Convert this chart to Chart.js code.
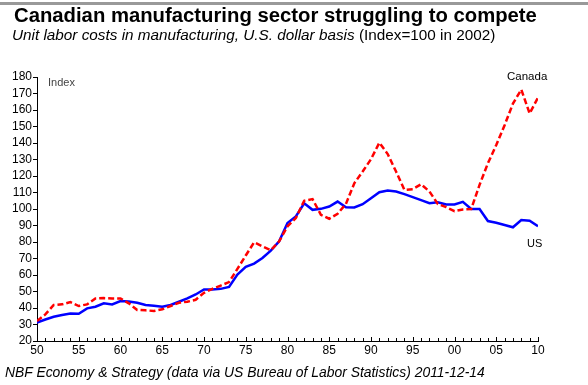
<!DOCTYPE html>
<html>
<head>
<meta charset="utf-8">
<script src="https://cdn.jsdelivr.net/npm/chart.js@4.4.0/dist/chart.umd.min.js"></script>
<style>
  body { margin: 0; background: #fff; font-family: Arial, "Liberation Sans", sans-serif; }
  #wrap { position: relative; width: 588px; height: 385px; overflow: hidden; }
  #topbar { position: absolute; left: 0; top: 2px; width: 588px; height: 3px; background: #999; }
  .txt { position: absolute; white-space: nowrap; line-height: 1; }
  #title { left: 14px; top: 5px; font-size: 20.3px; font-weight: bold; color: #000; }
  #subtitle { left: 12px; top: 27px; font-size: 15.3px; color: #000; }
  #footer { left: 5px; top: 366px; font-size: 13.9px; font-style: italic; color: #000; }
  #indexLbl { left: 48px; top: 77px; font-size: 11px; color: #444; }
  #canLbl { left: 507px; top: 71px; font-size: 11.5px; color: #000; }
  #usLbl { left: 527px; top: 238px; font-size: 11px; color: #000; }
  canvas { position: absolute; left: 0; top: 0; }
</style>
</head>
<body>
<div id="wrap">
  <canvas id="myChart" width="588" height="385"></canvas>
  <div id="topbar"></div>
  <div class="txt" id="title">Canadian manufacturing sector struggling to compete</div>
  <div class="txt" id="subtitle"><i>Unit labor costs in manufacturing, U.S. dollar basis</i> (Index=100 in 2002)</div>
  <div class="txt" id="indexLbl">Index</div>
  <div class="txt" id="canLbl">Canada</div>
  <div class="txt" id="usLbl">US</div>
  <div class="txt" id="footer">NBF Economy &amp; Strategy (data via US Bureau of Labor Statistics) 2011-12-14</div>
</div>
<script>
// years 1950..2010
const years = [1950, 1951, 1952, 1953, 1954, 1955, 1956, 1957, 1958, 1959,
    1960, 1961, 1962, 1963, 1964, 1965, 1966, 1967, 1968, 1969,
    1970, 1971, 1972, 1973, 1974, 1975, 1976, 1977, 1978, 1979,
    1980, 1981, 1982, 1983, 1984, 1985, 1986, 1987, 1988, 1989,
    1990, 1991, 1992, 1993, 1994, 1995, 1996, 1997, 1998, 1999,
    2000, 2001, 2002, 2003, 2004, 2005, 2006, 2007, 2008, 2009, 2010];

const usValues = [31.1, 33, 34.7, 35.7, 36.7, 36.5, 39.8, 40.8, 42.8, 42.2,
    44.2, 44, 43.2, 41.8, 41.4, 40.8, 41.8, 43.8, 45.8, 48.2,
    51.2, 51.2, 51.6, 52.8, 60.3, 64.9, 66.9, 70.3, 74.8, 80.4,
    91.5, 95.5, 103.5, 99.5, 100.1, 101.5, 104.5, 101.1, 100.9, 102.9,
    106.5, 110.2, 111.2, 110.6, 109, 107.2, 105.4, 103.5, 104.1, 102.7,
    102.7, 104.3, 100, 100, 92.7, 91.7, 90.3, 88.9, 93.3, 92.9, 89.5];

const canadaValues = [32.1, 36.1, 41.8, 42.2, 43.6, 41.2, 42.2, 45.8, 46, 45.8,
    45.8, 42.8, 38.8, 38.6, 38.2, 39.2, 41.2, 43.2, 43.8, 45,
    49.2, 51.6, 53.6, 55.7, 63.7, 71.8, 79.8, 77.4, 75, 80.4,
    89.5, 94.5, 105, 106, 96.5, 94.1, 97.1, 103.1, 115.6, 122.7,
    130.2, 140.2, 133.3, 122.7, 111.6, 112, 115, 110.6, 103.1, 101.1,
    98.7, 99.7, 100, 114.6, 127.7, 138.8, 150.8, 163.9, 172.4, 157.9, 167.5];

const yTicks = [20, 180, 10];   // min, max, step
const xTicks = [1950, 2010, 5];

// small upward tick marks on the x axis, one per year
const innerTicks = {
    id: 'innerTicks',
    afterDraw(chart) {
        const ctx = chart.ctx;
        const x = chart.scales.x;
        const bottom = chart.chartArea.bottom;
        ctx.save();
        ctx.strokeStyle = '#000';
        ctx.lineWidth = 1;
        years.forEach(yr => {
            const px = Math.round(x.getPixelForValue(yr)) + 0.5;
            const len = (yr % 5 === 0) ? 4 : 3;
            ctx.beginPath();
            ctx.moveTo(px, bottom);
            ctx.lineTo(px, bottom - len);
            ctx.stroke();
        });
        ctx.restore();
    }
};

const chart = new Chart(document.getElementById('myChart').getContext('2d'), {
    type: 'line',
    data: {
        datasets: [{
            label: 'Canada',
            data: years.map((y, i) => ({ x: y, y: canadaValues[i] })),
            borderColor: '#ff0000',
            borderWidth: 2.5,
            borderDash: [6, 3],
            pointRadius: 0,
            tension: 0
        }, {
            label: 'US',
            data: years.map((y, i) => ({ x: y, y: usValues[i] })),
            borderColor: '#0000ff',
            borderWidth: 2.5,
            pointRadius: 0,
            tension: 0
        }]
    },
    options: {
        responsive: false,
        animation: false,
        layout: { padding: { top: 77, right: 50, left: 0, bottom: 0 } },
        plugins: { legend: { display: false }, tooltip: { enabled: false } },
        scales: {
            x: {
                type: 'linear',
                min: xTicks[0],
                max: xTicks[1],
                afterFit: s => { s.height = 44; },
                ticks: {
                    stepSize: xTicks[2],
                    autoSkip: false,
                    maxRotation: 0,
                    padding: 2,
                    color: '#000',
                    font: { family: 'Arial, "Liberation Sans"', size: 12 },
                    callback: v => String(v % 100).padStart(2, '0')
                },
                grid: { drawOnChartArea: false, drawTicks: false },
                border: { display: true, color: '#000', width: 1 }
            },
            y: {
                min: yTicks[0],
                max: yTicks[1],
                afterFit: s => { s.width = 37; },
                ticks: {
                    stepSize: yTicks[2],
                    autoSkip: false,
                    padding: 1,
                    color: '#000',
                    font: { family: 'Arial, "Liberation Sans"', size: 12 }
                },
                grid: { drawOnChartArea: false, drawTicks: true, tickLength: 4, color: '#000' },
                border: { display: true, color: '#000', width: 1 }
            }
        }
    },
    plugins: [innerTicks]
});
</script>
</body>
</html>
